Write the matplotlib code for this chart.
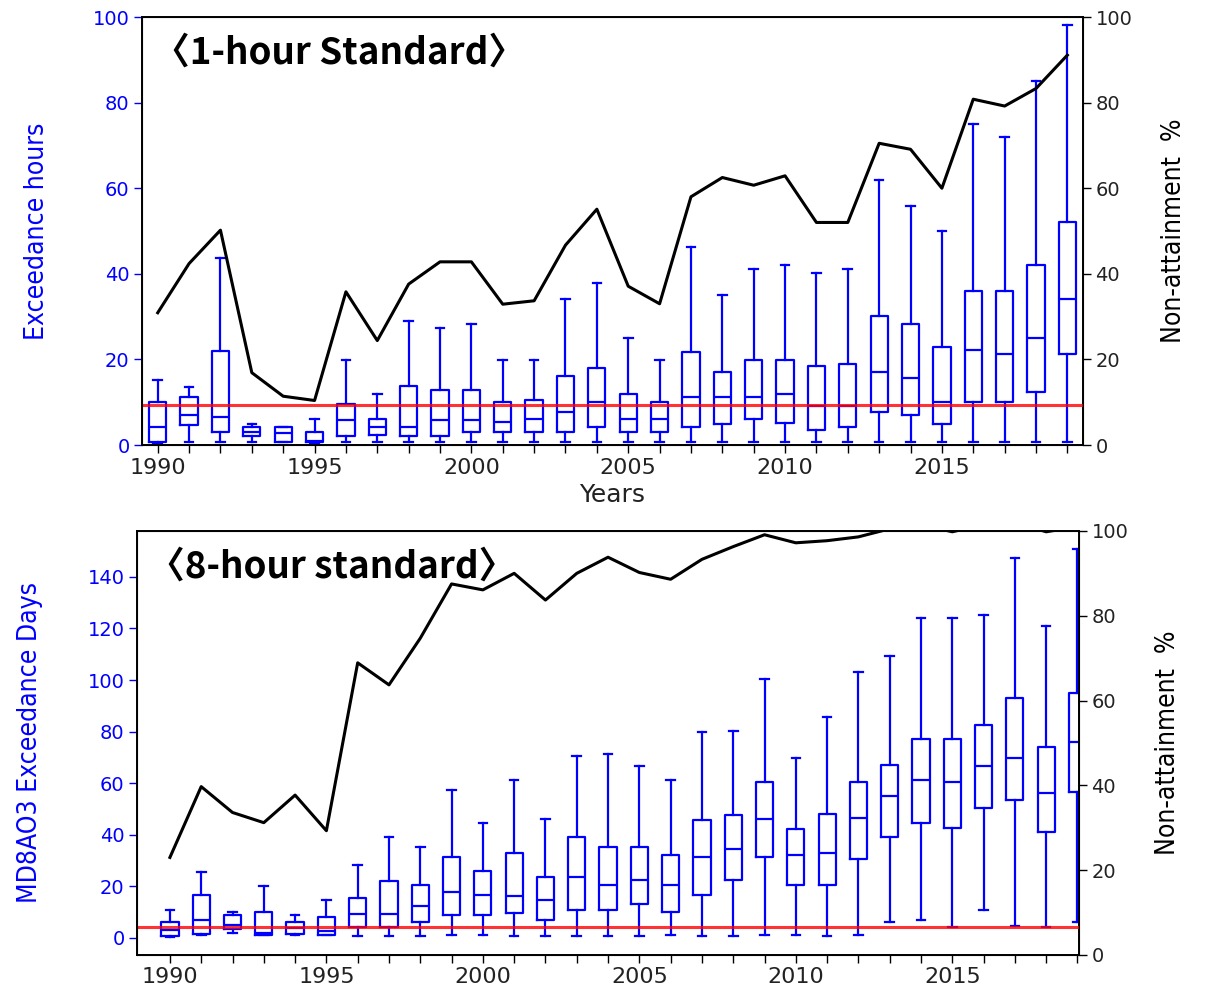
import matplotlib
matplotlib.use("Agg")
import matplotlib.pyplot as plt

years = list(range(1990, 2020))

# 1-hour standard: exceedance hours box stats
hr_lo = [0.5, 0.8, 0.8, 0.8, 0.8, 0.5, 0.8, 0.8, 0.8, 0.8, 0.8, 0.8, 0.8, 0.8, 0.8,
         0.8, 0.8, 0.8, 0.8, 0.8, 0.8, 0.8, 0.8, 0.8, 0.8, 0.8, 0.8, 0.8, 0.8, 0.8]
hr_q1 = [0.8, 4.7, 3.1, 2.1, 0.8, 0.8, 2.1, 2.3, 2.1, 2.1, 3.1, 3.1, 3.1, 3.1, 4.1,
         3.1, 3.1, 4.3, 4.9, 6.0, 5.1, 3.6, 4.3, 7.8, 6.9, 4.9, 10.1, 10.1, 12.5, 21.3]
hr_med = [4.1, 7.0, 6.5, 3.1, 2.8, 0.9, 5.8, 4.3, 4.3, 5.8, 5.8, 5.4, 6.0, 7.8, 10.1,
          6.0, 6.0, 11.1, 11.1, 11.1, 11.9, 9.1, 9.1, 17.1, 15.6, 10.1, 22.2, 21.3, 24.9, 34.1]
hr_q3 = [10.1, 11.3, 22.0, 4.1, 4.1, 3.1, 9.5, 6.0, 13.8, 12.9, 12.9, 10.1, 10.4, 16.1, 17.9,
         11.9, 10.1, 21.7, 17.0, 19.9, 19.9, 18.5, 18.9, 30.1, 28.2, 23.0, 36.0, 36.0, 42.1, 52.2]
hr_hi = [15.2, 13.6, 43.8, 4.9, 4.1, 6.0, 19.9, 11.9, 29.0, 27.3, 28.3, 19.9, 19.9, 34.2, 37.9,
         24.9, 19.9, 46.2, 35.0, 41.1, 42.1, 40.1, 41.1, 61.9, 55.8, 50.0, 74.9, 72.0, 85.1, 98.1]
hr_nonattain = [30.9, 42.4, 50.2, 16.9, 11.4, 10.4, 35.8, 24.4, 37.6, 42.8, 42.8, 32.9, 33.7, 46.7, 55.1,
                37.1, 33.0, 58.0, 62.5, 60.7, 62.9, 52.0, 52.0, 70.5, 69.1, 60.0, 80.8, 79.2, 83.3, 91.1]
hr_standard = 9.4

# 8-hour standard: exceedance days box stats
day_lo = [0.5, 1.0, 1.8, 1.0, 1.0, 1.0, 0.8, 0.8, 0.8, 1.3, 1.3, 0.8, 0.8, 0.8, 0.8,
          0.8, 1.3, 0.8, 0.8, 1.3, 1.3, 0.8, 1.3, 6.1, 7.0, 4.2, 10.9, 4.7, 4.2, 6.1]
day_q1 = [0.8, 1.4, 3.4, 1.3, 1.4, 1.2, 4.2, 4.2, 6.0, 9.0, 9.0, 9.7, 7.0, 10.9, 10.9,
          13.1, 10.0, 16.7, 22.3, 31.4, 20.6, 20.6, 30.6, 39.1, 44.4, 42.7, 50.5, 53.5, 41.2, 56.6]
day_med = [3.1, 7.0, 5.1, 2.0, 3.9, 2.5, 9.2, 9.2, 12.2, 17.7, 16.7, 16.1, 14.8, 23.6, 20.6,
           22.3, 20.6, 31.4, 34.5, 46.0, 32.1, 33.0, 46.6, 55.1, 61.2, 60.3, 66.5, 69.6, 56.0, 75.8]
day_q3 = [6.0, 16.7, 9.0, 9.9, 6.0, 8.3, 15.5, 22.2, 20.6, 31.3, 26.1, 33.0, 23.6, 39.1, 35.2,
          35.2, 32.1, 45.7, 47.5, 60.3, 42.1, 48.2, 60.3, 67.1, 77.1, 77.1, 82.6, 93.1, 74.1, 94.9]
day_hi = [10.9, 25.4, 9.9, 20.0, 9.0, 14.8, 28.4, 39.1, 35.3, 57.4, 44.4, 61.3, 46.0, 70.4, 71.3,
          66.5, 61.2, 79.7, 80.4, 100.2, 69.6, 85.6, 103.1, 109.3, 123.9, 123.9, 125.4, 147.5, 120.9, 150.8]
day_nonattain = [23.0, 39.7, 33.6, 31.2, 37.7, 29.3, 68.9, 63.7, 74.7, 87.5, 86.1, 90.0, 83.7, 90.0, 93.8,
                 90.2, 88.6, 93.3, 96.3, 99.1, 97.2, 97.7, 98.6, 100.5, 101.5, 99.8, 101.5, 102.0, 99.8, 101.0]
day_standard = 4.4


def make_stats(lo, q1, med, q3, hi):
    return [dict(whislo=a, q1=b, med=c, q3=d, whishi=e, fliers=[])
            for a, b, c, d, e in zip(lo, q1, med, q3, hi)]


def draw_panel(ax, stats, nonattain, standard, title, ylabel):
    blue = dict(color='blue', lw=1.6)
    ax.bxp(stats, positions=years, widths=0.55, showfliers=False,
           boxprops=blue, whiskerprops=blue, capprops=blue, medianprops=blue,
           manage_ticks=False)
    ax.axhline(standard, color='red', lw=2.2, alpha=0.8, zorder=5)
    ax.set_ylabel(ylabel, color='blue', fontsize=19, fontstretch='condensed')
    ax.tick_params(axis='y', colors='blue', labelsize=14, length=5.5, width=1)
    ax.tick_params(axis='x', labelsize=16, length=5.5, width=1, labelcolor='#222222')
    ax.set_xticks(years)
    ax.set_xticklabels([str(y) if y % 5 == 0 else '' for y in years])
    ax.text(0.012, 0.915, title, transform=ax.transAxes, ha='left', va='center',
            fontsize=26.5, fontweight='bold', family=['Noto Sans CJK KR', 'DejaVu Sans'])
    for s in ax.spines.values():
        s.set_linewidth(1.4)

    ax2 = ax.twinx()
    ax2.plot(years, nonattain, color='black', lw=2.2)
    ax2.set_ylim(0, 100)
    ax2.set_yticks([0, 20, 40, 60, 80, 100])
    ax2.set_ylabel('Non-attainment  %', fontsize=19, fontstretch='condensed')
    ax2.tick_params(axis='y', labelsize=14, length=5.5, width=1, labelcolor='#222222')
    return ax2


fig = plt.figure(figsize=(12.15, 9.9), dpi=100)

ax_top = fig.add_axes([0.1169, 0.5505, 0.7745, 0.4323])
r_top = draw_panel(ax_top, make_stats(hr_lo, hr_q1, hr_med, hr_q3, hr_hi),
                   hr_nonattain, hr_standard, '〈1-hour Standard〉', 'Exceedance hours')
ax_top.set_xlim(1989.5, 2019.5)
ax_top.set_ylim(0, 100)
ax_top.set_yticks([0, 20, 40, 60, 80, 100])
ax_top.set_xlabel('Years', fontsize=18, color='#222222')
ax_top.yaxis.set_label_coords(-0.098, 0.5)
r_top.yaxis.set_label_coords(1.083, 0.5)

ax_bot = fig.add_axes([0.1128, 0.0354, 0.7753, 0.4283])
r_bot = draw_panel(ax_bot, make_stats(day_lo, day_q1, day_med, day_q3, day_hi),
                   day_nonattain, day_standard, '〈8-hour standard〉', 'MD8AO3 Exceedance Days')
ax_bot.set_xlim(1988.95, 2019.05)
ax_bot.set_ylim(-6.6, 157.8)
ax_bot.set_yticks([0, 20, 40, 60, 80, 100, 120, 140])
ax_bot.yaxis.set_label_coords(-0.100, 0.5)
r_bot.yaxis.set_label_coords(1.081, 0.5)

fig.savefig('out.png', dpi=100)
